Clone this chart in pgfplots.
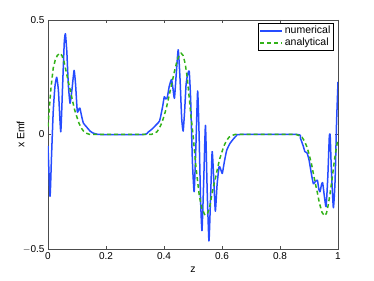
\documentclass[border=0pt]{standalone}
\usepackage{fontspec}
\setmainfont{Liberation Sans}
\usepackage{pgfplots}
\pgfplotsset{compat=1.18}
\definecolor{numblue}{rgb}{0.15,0.3,1}
\definecolor{angreen}{rgb}{0.2,0.7,0.1}
\begin{document}
\begin{tikzpicture}
\useasboundingbox (-48bp,-32bp) rectangle (326bp,249bp);
\begin{axis}[
  scale only axis,
  width=290bp, height=229bp,
  xmin=0, xmax=1, ymin=-0.5, ymax=0.5,
  xtick={0,0.2,0.4,0.6,0.8,1},
  ytick={-0.5,0,0.5},
  xticklabels={0,0.2,0.4,0.6,0.8,1},
  yticklabels={$-$0.5,0,0.5},
  tick align=inside,
  major tick length=3bp,
  tick style={black!70, line width=0.4pt},
  axis line style={black!70, line width=0.5pt},
  every tick label/.append style={font=\fontsize{10bp}{12bp}\selectfont},
  xlabel={z}, ylabel={x Emf},
  label style={font=\fontsize{10.5bp}{12bp}\selectfont},
  xlabel style={at={(axis description cs:0.5,0)}, anchor=north, yshift=-14bp},
  ylabel style={at={(axis description cs:0,0.5)}, anchor=south, yshift=20bp},
  legend style={at={(axis cs:0.985,0.487)}, anchor=north east, draw=black, line width=0.5pt,
    font=\fontsize{10.5bp}{12bp}\selectfont, inner sep=1bp, row sep=-1bp,
    legend cell align=left},
  legend image code/.code={\draw[#1] (0bp,0bp) -- (22bp,0bp);},
]
\addplot[numblue, line width=1.5bp, line join=round, smooth, tension=0.3] coordinates {
(0,-0.05) (0.007,-0.27) (0.012,-0.10) (0.018,0.10) (0.024,0.21) (0.030,0.25)
(0.036,0.19) (0.044,0.012) (0.050,0.20) (0.056,0.40) (0.060,0.44) (0.065,0.36)
(0.070,0.22) (0.076,0.136) (0.083,0.20) (0.090,0.28) (0.095,0.22) (0.101,0.10)
(0.106,0.11) (0.110,0.115) (0.116,0.08) (0.122,0.05) (0.133,0.033) (0.145,0.015)
(0.156,0.006) (0.17,0.001) (0.18,0) (0.33,0) (0.345,0.01) (0.36,0.025)
(0.375,0.045) (0.385,0.06) (0.395,0.12) (0.401,0.165) (0.406,0.155) (0.411,0.16)
(0.418,0.21) (0.426,0.24) (0.431,0.20) (0.436,0.158) (0.442,0.26) (0.449,0.37)
(0.455,0.25) (0.461,0.07) (0.466,0.015) (0.471,0.10) (0.476,0.216) (0.481,0.26)
(0.487,0.275) (0.492,0.15) (0.498,-0.12) (0.504,-0.25) (0.510,-0.05) (0.516,0.19)
(0.521,0.0) (0.526,-0.28) (0.531,-0.42) (0.537,-0.20) (0.543,0.04) (0.549,-0.25)
(0.555,-0.465) (0.560,-0.30) (0.566,-0.075) (0.571,-0.18) (0.577,-0.335) (0.583,-0.22)
(0.590,-0.14) (0.595,-0.15) (0.601,-0.17) (0.608,-0.12) (0.616,-0.07) (0.627,-0.04)
(0.639,-0.02) (0.650,-0.005) (0.662,0) (0.86,0) (0.870,-0.015) (0.880,-0.05)
(0.886,-0.075) (0.893,-0.08) (0.900,-0.11) (0.908,-0.17) (0.915,-0.215) (0.922,-0.205)
(0.929,-0.20) (0.934,-0.24) (0.938,-0.25) (0.943,-0.22) (0.947,-0.21) (0.953,-0.27)
(0.959,-0.315) (0.965,-0.18) (0.970,-0.01) (0.973,-0.005) (0.977,-0.15) (0.984,-0.32)
(0.990,-0.20) (0.995,0.05) (1.0,0.23)
};
\addlegendentry{numerical}
\addplot[angreen, line width=1.5bp, dash pattern=on 4bp off 3bp] coordinates {
(0,0.035) (0.005,0.12) (0.010,0.20) (0.018,0.29) (0.025,0.325) (0.032,0.345)
(0.041,0.355) (0.048,0.345) (0.055,0.32) (0.064,0.267) (0.071,0.225) (0.078,0.187)
(0.085,0.145) (0.092,0.107) (0.100,0.075) (0.107,0.049) (0.115,0.028) (0.124,0.012)
(0.135,0.004) (0.145,0.0) (0.355,0.0) (0.365,0.004) (0.376,0.012) (0.385,0.03)
(0.393,0.052) (0.400,0.08) (0.408,0.115) (0.415,0.155) (0.422,0.195) (0.429,0.235)
(0.436,0.275) (0.445,0.322) (0.452,0.345) (0.459,0.355) (0.466,0.345) (0.473,0.31)
(0.480,0.25) (0.487,0.16) (0.493,0.08) (0.500,0.0) (0.505,-0.07) (0.510,-0.14)
(0.516,-0.206) (0.522,-0.27) (0.530,-0.32) (0.541,-0.352) (0.550,-0.345) (0.557,-0.32)
(0.564,-0.27) (0.571,-0.225) (0.578,-0.187) (0.585,-0.145) (0.592,-0.107) (0.600,-0.075)
(0.607,-0.049) (0.615,-0.028) (0.624,-0.012) (0.635,-0.004) (0.645,0) (0.855,0)
(0.865,-0.004) (0.876,-0.012) (0.885,-0.03) (0.893,-0.055) (0.900,-0.085) (0.908,-0.125)
(0.915,-0.17) (0.922,-0.215) (0.929,-0.255) (0.936,-0.30) (0.945,-0.34) (0.953,-0.355)
(0.960,-0.345) (0.966,-0.31) (0.972,-0.264) (0.980,-0.19) (0.987,-0.119) (0.994,-0.06)
(1.0,-0.02)
};
\addlegendentry{analytical}
\end{axis}
\end{tikzpicture}
\end{document}
